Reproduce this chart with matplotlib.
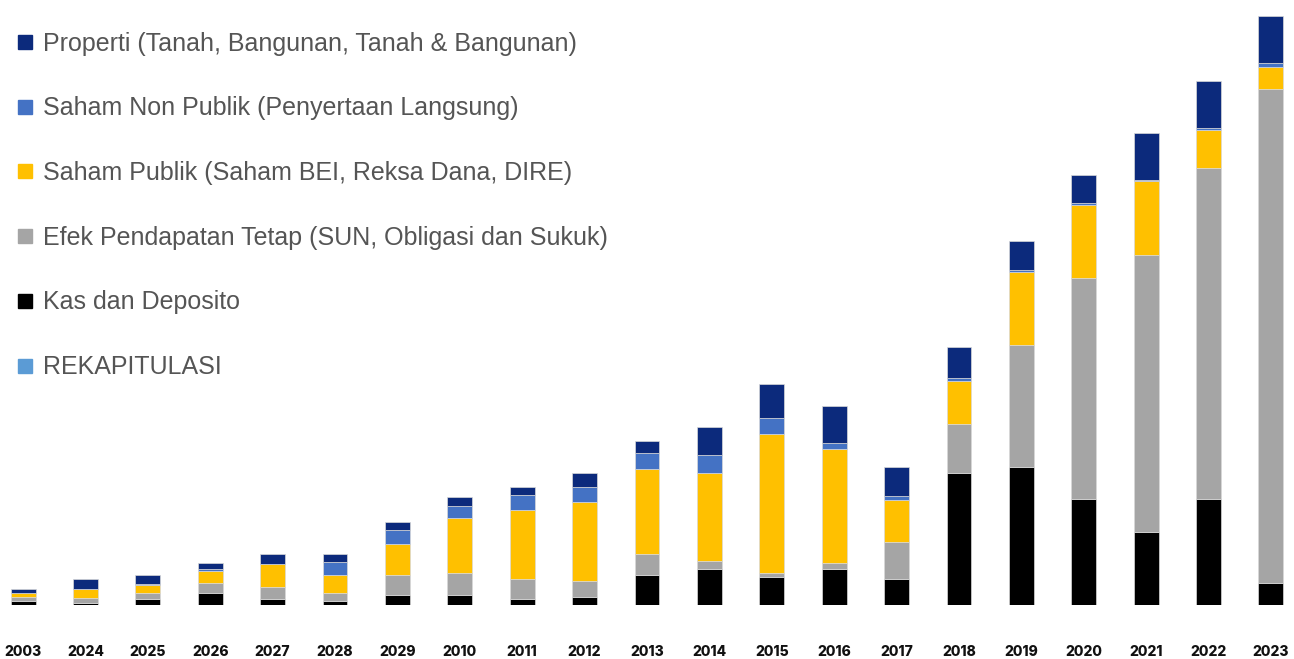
import matplotlib.pyplot as plt
from matplotlib.lines import Line2D

# Komposisi investasi per tahun (tinggi segmen, satuan relatif)
years = ['2003', '2024', '2025', '2026', '2027', '2028', '2029', '2010', '2011', '2012',
         '2013', '2014', '2015', '2016', '2017', '2018', '2019', '2020', '2021', '2022', '2023']

kas = [4, 2.5, 6, 11.7, 6, 4, 10, 10, 6, 8.3,
       30.3, 36.3, 28.3, 36.3, 26, 132.3, 138.3, 105.7, 73.4, 105.9, 22.1]
efek = [3.7, 5, 5.7, 10, 11.7, 7.7, 20, 22.3, 20, 15.7,
        20.4, 8, 4, 6, 36.7, 48.4, 121.7, 221.6, 276.3, 331.1, 494.1]
saham_publik = [4.3, 8.3, 8.6, 12.6, 23, 18.3, 30.7, 54.7, 69.3, 79.3,
                85, 87.4, 138.4, 113.7, 42.6, 43.6, 73, 72.7, 74, 38.2, 22.2]
saham_non_publik = [0.5, 0, 0.5, 1.3, 0.5, 12.7, 14, 12, 14.4, 14.3,
                    16.6, 18.3, 16, 6.3, 4, 2.4, 2, 1.7, 1.5, 1.9, 3.8]
properti = [3.5, 10, 9.5, 6.4, 9.5, 8, 8.3, 8.7, 8, 14.3,
            12, 28.3, 34.3, 36.7, 28.7, 31, 28.7, 28.6, 46.3, 46.7, 46.7]

series = [
    ('Kas dan Deposito', kas, '#000000'),
    ('Efek Pendapatan Tetap (SUN, Obligasi dan Sukuk)', efek, '#a5a5a5'),
    ('Saham Publik (Saham BEI, Reksa Dana, DIRE)', saham_publik, '#ffc000'),
    ('Saham Non Publik (Penyertaan Langsung)', saham_non_publik, '#4472c4'),
    ('Properti (Tanah, Bangunan, Tanah & Bangunan)', properti, '#0c2a7c'),
]

fig = plt.figure(figsize=(12.94, 6.59), dpi=100)
ax = fig.add_axes([0, 54 / 659, 1, 605 / 659])

x = range(len(years))
bottom = [0] * len(years)
for name, vals, col in series:
    ax.bar(x, vals, width=0.4, bottom=bottom, color=col,
           edgecolor='#d9d9d9', linewidth=0.5)
    bottom = [b + v for b, v in zip(bottom, vals)]

ax.set_xlim(-0.369, len(years) - 1 + 0.369)
ax.set_ylim(0, 605)
ax.set_xticks(list(x))
ax.set_xticklabels(years, fontsize=10, fontweight=800, color='#111111', family='Inter')
ax.tick_params(axis='x', length=0, pad=29)
ax.set_yticks([])
for s in ax.spines.values():
    s.set_visible(False)

# legenda: urutan dari atas ke bawah
legend_items = [
    ('Properti (Tanah, Bangunan, Tanah & Bangunan)', '#0c2a7c'),
    ('Saham Non Publik (Penyertaan Langsung)', '#4472c4'),
    ('Saham Publik (Saham BEI, Reksa Dana, DIRE)', '#ffc000'),
    ('Efek Pendapatan Tetap (SUN, Obligasi dan Sukuk)', '#a5a5a5'),
    ('Kas dan Deposito', '#000000'),
    ('REKAPITULASI', '#5b9bd5'),
]
handles = [Line2D([], [], marker='s', ls='', color=c, markersize=10.5) for _, c in legend_items]
leg = fig.legend(handles, [l for l, _ in legend_items], loc='upper left',
                 bbox_to_anchor=(0.006, 1 - 24 / 659), frameon=False,
                 prop={'family': 'Liberation Sans', 'size': 18},
                 handlelength=0.75, handletextpad=0.35, labelspacing=1.63,
                 borderaxespad=0, borderpad=0.3)
for t in leg.get_texts():
    t.set_color('#555555')

fig.savefig('out.png', dpi=100)
